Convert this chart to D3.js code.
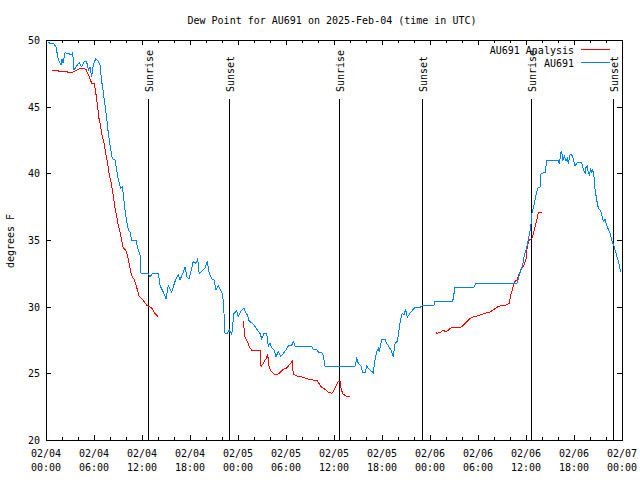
<!DOCTYPE html>
<html>
<head>
<meta charset="utf-8">
<script src="https://cdn.jsdelivr.net/npm/d3@7"></script>
<style>
  html, body { margin: 0; padding: 0; background: #fff; }
  svg { display: block; }
  text { font-family: "DejaVu Sans Mono", "Liberation Mono", monospace; font-size: 10px; fill: #000; }
</style>
</head>
<body>
<svg id="chart" width="640" height="480"></svg>
<script>
// ---------- DATA (hours after 2025-02-04 00:00 UTC, degrees F) ----------
const titleText = "Dew Point for AU691 on 2025-Feb-04 (time in UTC)";
const yLabelText = "degrees F";
const seriesNames = ["AU691 Analysis", "AU691"];
const yTicks = [20, 25, 30, 35, 40, 45, 50];

const analysisData = [
  [0.71,47.7],[2.38,47.65],[3.0,47.55],[3.41,47.6],[3.84,47.75],[4.46,47.9],[5.0,47.8],
  [5.29,47.4],[5.5,47.1],[5.71,46.75],[6.04,46.75],[6.21,46.1],[6.46,45.0],[6.63,44.1],
  [6.84,43.5],[6.96,43.0],[7.25,42.25],[7.5,41.4],[7.71,40.75],[7.91,39.9],[8.21,39.1],
  [8.41,38.3],[8.63,37.4],[8.84,36.75],[9.04,36.1],[9.25,35.6],[9.46,35.0],[9.66,34.4],
  [9.96,34.25],[10.16,33.9],[10.38,33.25],[10.59,32.6],[10.79,32.2],[11.04,32.05],
  [11.25,31.6],[11.46,31.2],[11.66,30.75],[11.96,30.6],[12.25,30.4],[12.59,30.1],
  [12.91,30.0],[13.21,29.9],[13.5,29.6],[13.75,29.4],[14.04,29.25],
  null,
  [24.66,28.9],[24.88,27.7],[25.16,27.4],[25.41,27.0],[25.71,26.75],[26.75,26.75],
  [26.88,25.5],[27.16,25.75],[27.5,26.1],[27.71,26.4],[27.91,25.4],[28.21,25.1],
  [28.63,24.9],[28.91,24.9],[29.25,25.05],[29.66,25.3],[30.09,25.4],[30.5,25.7],
  [30.79,25.9],[30.91,24.95],[31.34,24.8],[31.84,24.75],[32.59,24.6],[33.34,24.5],
  [33.84,24.5],[34.04,24.3],[34.46,23.95],[34.88,23.8],[35.29,23.6],[35.71,23.5],
  [35.91,23.6],[36.21,24.0],[36.54,24.4],[36.75,24.4],[36.88,23.9],[37.09,23.45],
  [37.5,23.3],[38.0,23.3],
  null,
  [48.71,28.05],[48.91,28.0],[49.34,28.1],[49.66,28.25],[50.0,28.1],[50.41,28.3],
  [50.71,28.45],[51.13,28.45],[51.66,28.4],[51.96,28.5],[52.38,28.75],[52.79,29.0],
  [53.21,29.2],[53.84,29.3],[54.46,29.4],[54.88,29.5],[55.5,29.6],[55.91,29.75],
  [56.34,29.95],[56.75,30.05],[57.38,30.1],[57.91,30.25],[58.09,30.9],[58.21,31.1],
  [58.41,31.55],[58.63,31.9],[58.91,32.0],[59.16,32.5],[59.46,32.9],[59.75,33.1],
  [60.0,33.6],[60.16,34.5],[60.41,35.0],[60.71,35.1],[60.91,35.4],[61.13,36.0],
  [61.34,36.5],[61.54,37.05],[61.96,37.05]
];

const stationData = [
  [0.25,49.8],[1.0,49.7],[1.25,49.5],[1.54,48.5],[1.88,48.1],[2.0,48.6],[2.13,48.3],
  [2.38,49.05],[3.21,48.9],[3.34,49.05],[3.5,47.75],[3.84,48.05],[4.13,48.3],[4.46,48.0],
  [4.79,48.4],[5.09,48.35],[5.29,47.75],[5.5,48.0],[5.71,47.25],[5.91,48.1],[6.21,48.6],
  [6.54,48.4],[6.75,48.1],[6.96,46.9],[7.16,46.1],[7.38,45.1],[7.59,44.1],[7.79,43.0],
  [8.0,42.1],[8.29,41.1],[8.63,41.0],[8.84,40.25],[9.04,39.5],[9.34,38.9],[9.54,39.0],
  [9.66,38.4],[9.88,37.25],[10.09,36.4],[10.29,35.75],[10.5,35.6],[10.71,35.0],
  [11.25,35.0],[11.46,34.4],[11.75,33.9],[11.88,32.5],[12.79,32.5],[13.0,32.25],
  [13.34,32.5],[14.04,32.5],[14.25,31.6],[14.66,31.1],[15.0,30.6],[15.29,31.6],
  [15.71,31.1],[16.13,31.9],[16.54,32.4],[16.75,32.0],[17.16,32.6],[17.38,33.0],
  [17.59,32.25],[17.88,32.1],[18.21,32.9],[18.41,33.4],[18.75,33.25],[18.96,33.55],
  [19.16,32.45],[19.59,32.75],[19.88,32.9],[20.16,33.4],[20.41,32.5],[20.71,32.1],
  [21.0,32.0],[21.25,31.25],[21.54,31.55],[21.84,31.25],[22.09,30.9],[22.25,29.5],
  [22.38,28.0],[22.66,28.0],[22.91,28.25],[23.21,27.9],[23.5,29.5],[23.84,29.7],
  [24.04,29.25],[24.38,29.7],[24.75,29.9],[25.0,29.5],[25.16,29.4],[25.41,28.9],
  [25.84,28.75],[26.13,28.5],[26.41,28.25],[26.75,28.0],[26.96,27.6],[27.25,28.0],
  [27.59,28.0],[27.79,27.0],[28.0,27.25],[28.21,26.9],[28.5,26.75],[28.75,26.25],
  [29.04,26.6],[29.34,26.25],[29.66,26.5],[30.0,26.75],[30.29,27.05],[30.71,27.1],
  [30.91,27.4],[31.13,27.05],[33.21,27.05],[33.41,26.8],[33.84,26.8],[34.04,26.6],
  [34.59,26.5],[34.75,26.0],[34.88,25.55],[38.63,25.55],[38.84,26.1],[39.04,25.75],
  [39.34,25.6],[39.59,25.05],[39.88,25.05],[40.09,25.55],[40.41,25.3],[40.91,25.05],
  [41.13,26.0],[41.34,26.6],[41.54,26.9],[41.66,26.6],[41.96,27.55],[42.38,27.55],
  [42.59,27.25],[43.13,26.75],[43.41,26.25],[43.63,27.25],[43.91,27.4],[44.13,28.25],
  [44.34,29.1],[44.54,29.5],[44.75,29.4],[44.96,29.8],[45.16,29.2],[45.5,29.5],
  [45.84,29.75],[46.13,29.95],[46.75,29.95],[47.09,30.1],[48.5,30.1],[48.63,30.4],
  [50.84,30.4],[51.13,31.45],[53.5,31.45],[53.75,31.75],[56.13,31.7],[57.38,31.75],
  [58.84,31.7],[59.04,32.1],[59.34,32.75],[59.59,33.1],[59.75,33.75],[60.0,34.25],
  [60.21,34.75],[60.41,35.4],[60.59,36.0],[60.75,37.0],[61.0,37.6],[61.16,38.1],
  [61.34,38.6],[61.54,38.95],[61.75,38.95],[61.88,40.0],[62.38,40.05],[62.59,40.95],
  [64.04,40.95],[64.16,40.7],[64.34,41.5],[64.46,41.7],[64.59,40.95],[64.79,41.3],
  [65.0,40.9],[65.16,41.1],[65.29,40.7],[65.5,41.4],[65.71,41.4],[65.91,41.1],
  [66.13,40.55],[66.41,40.8],[66.96,40.8],[67.16,40.3],[67.38,40.0],[67.5,40.45],
  [67.66,40.55],[67.79,40.0],[67.91,39.9],[68.09,40.3],[68.21,40.1],[68.34,40.25],
  [68.5,39.75],[68.63,38.8],[68.84,38.0],[69.04,37.4],[69.34,37.2],[69.46,36.9],
  [69.66,36.4],[69.88,36.55],[70.0,36.25],[70.29,35.8],[70.5,35.5],[70.71,35.0],
  [71.0,34.55],[71.25,34.0],[71.54,33.4],[71.84,32.6]
];

// sun events: hours after start
const sunEventNames = ["Sunrise", "Sunset", "Sunrise", "Sunset", "Sunrise", "Sunset"];
const sunEventHours = [12.75, 22.92, 36.67, 46.94, 60.62, 70.92];

// ---------- CHART ----------
const svg = d3.select("#chart");
const t0 = Date.UTC(2025, 1, 4, 0, 0);
const t1 = Date.UTC(2025, 1, 7, 0, 0);
const toDate = h => new Date(t0 + h * 3600 * 1000);

const padL = 46, padR = 622, padT = 40, padB = 440;
const x = d3.scaleUtc().domain([new Date(t0), new Date(t1)]).range([padL, padR]);
const y = d3.scaleLinear().domain([20, 50]).range([padB, padT]);

const majorTicks = d3.utcHour.every(6).range(new Date(t0), new Date(t1 + 1));
const minorTicks = d3.utcHour.every(2).range(new Date(t0), new Date(t1 + 1));

// axes (ticks inward, mirrored)
const gAx = svg.append("g").attr("shape-rendering", "crispEdges");
const noDomain = g => g.select(".domain").remove();
gAx.append("g").attr("transform", `translate(0,${padB})`)
  .call(d3.axisBottom(x).tickValues(minorTicks).tickSize(-3).tickFormat("")).call(noDomain);
gAx.append("g").attr("transform", `translate(0,${padB})`)
  .call(d3.axisBottom(x).tickValues(majorTicks).tickSize(-5).tickFormat("")).call(noDomain);
gAx.append("g").attr("transform", `translate(0,${padT})`)
  .call(d3.axisTop(x).tickValues(minorTicks).tickSize(-3).tickFormat("")).call(noDomain);
gAx.append("g").attr("transform", `translate(0,${padT})`)
  .call(d3.axisTop(x).tickValues(majorTicks).tickSize(-5).tickFormat("")).call(noDomain);
const yAx = gAx.append("g").attr("transform", `translate(${padL},0)`)
  .call(d3.axisLeft(y).tickValues(yTicks).tickSize(-5).tickPadding(6).tickFormat(d3.format("d")));
yAx.call(noDomain);
yAx.attr("font-family", null).attr("font-size", null);
yAx.selectAll("text").attr("dy", "0.36em");
gAx.append("g").attr("transform", `translate(${padR},0)`)
  .call(d3.axisRight(y).tickValues(yTicks).tickSize(-5).tickFormat("")).call(noDomain);

// x tick labels (two lines)
const fmtDay = d3.utcFormat("%m/%d"), fmtTime = d3.utcFormat("%H:%M");
const xl = svg.append("g").selectAll("g").data(majorTicks).join("g")
  .attr("transform", d => `translate(${x(d)},0)`);
xl.append("text").attr("y", 457).attr("text-anchor", "middle").text(d => fmtDay(d));
xl.append("text").attr("y", 471).attr("text-anchor", "middle").text(d => fmtTime(d));

// sun event lines
const sun = svg.append("g");
sun.selectAll("line").data(sunEventHours).join("line")
  .attr("x1", d => Math.round(x(toDate(d))) + 0.5).attr("x2", d => Math.round(x(toDate(d))) + 0.5)
  .attr("y1", 99).attr("y2", padB)
  .attr("stroke", "#000").attr("stroke-width", 1)
  .attr("shape-rendering", "crispEdges");
sun.selectAll("text").data(sunEventHours).join("text")
  .attr("transform", d => `translate(${Math.round(x(toDate(d))) + 5},92) rotate(-90)`)
  .attr("text-anchor", "start")
  .text((d, i) => sunEventNames[i]);

// data lines
const line = d3.line()
  .defined(d => d !== null)
  .x(d => x(toDate(d[0])))
  .y(d => y(d[1]));
svg.append("path").datum(analysisData).attr("d", line)
  .attr("fill", "none").attr("stroke", "#ff0000").attr("stroke-width", 1)
  .attr("shape-rendering", "crispEdges");
svg.append("path").datum(stationData).attr("d", line)
  .attr("fill", "none").attr("stroke", "#0080ff").attr("stroke-width", 1)
  .attr("shape-rendering", "crispEdges");

// frame
svg.append("rect").attr("x", padL + 0.5).attr("y", padT + 0.5)
  .attr("width", padR - padL).attr("height", padB - padT)
  .attr("fill", "none").attr("stroke", "#000").attr("stroke-width", 1)
  .attr("shape-rendering", "crispEdges");

// legend
const legendColors = ["#ff0000", "#0080ff"];
const legendY = [49.5, 62.5];
const lg = svg.append("g").selectAll("g").data(seriesNames).join("g");
lg.append("text").attr("x", 574).attr("y", (d, i) => legendY[i] + 4)
  .attr("text-anchor", "end").text(d => d);
lg.append("line").attr("x1", 581).attr("x2", 610)
  .attr("y1", (d, i) => legendY[i]).attr("y2", (d, i) => legendY[i])
  .attr("stroke", (d, i) => legendColors[i]).attr("stroke-width", 1)
  .attr("shape-rendering", "crispEdges");

// title and y label
svg.append("text").attr("x", 332).attr("y", 24).attr("text-anchor", "middle").text(titleText);
svg.append("text").attr("transform", "translate(14,241) rotate(-90)")
  .attr("text-anchor", "middle").text(yLabelText);
</script>
</body>
</html>
